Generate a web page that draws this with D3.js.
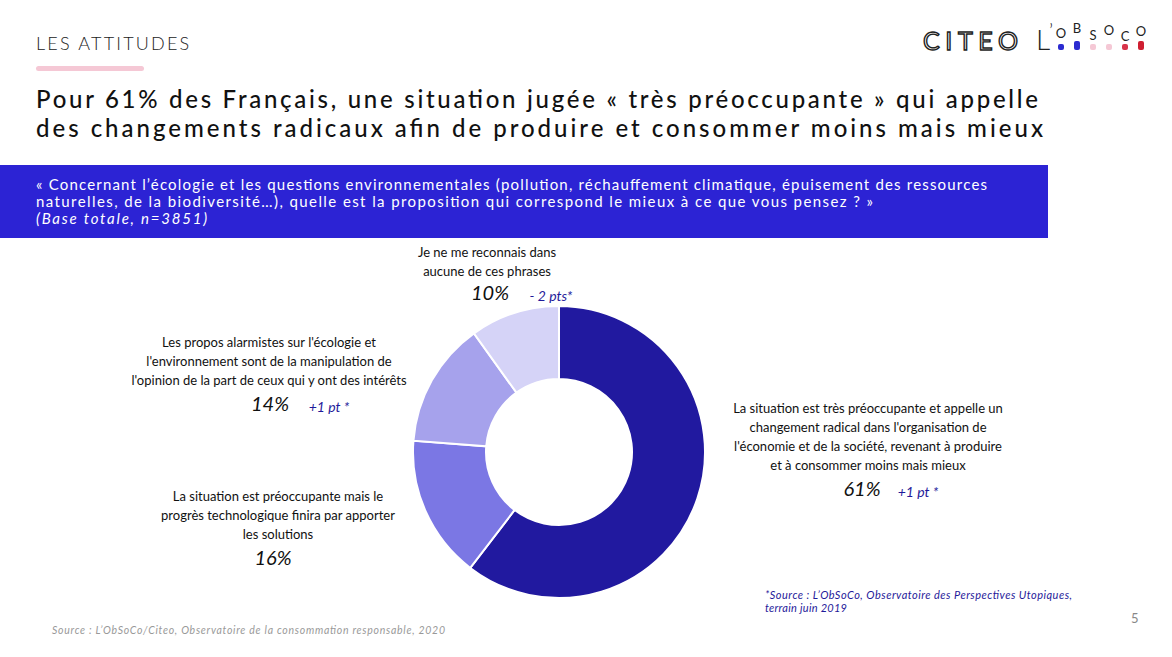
<!DOCTYPE html>
<html>
<head>
<meta charset="utf-8">
<script src="https://cdn.jsdelivr.net/npm/d3@7"></script>
<style>
  body { margin: 0; background: #fff; }
  svg { display: block; font-family: "Lato", "Open Sans", sans-serif; }
</style>
</head>
<body>
<div id="chart"></div>
<script>
// data
const categories = [
  "La situation est très préoccupante et appelle un changement radical dans l'organisation de l'économie et de la société, revenant à produire et à consommer moins mais mieux",
  "La situation est préoccupante mais le progrès technologique finira par apporter les solutions",
  "Les propos alarmistes sur l'écologie et l'environnement sont de la manipulation de l'opinion de la part de ceux qui y ont des intérêts",
  "Je ne me reconnais dans aucune de ces phrases"
];
const values = [61, 16, 14, 10];
const evolutions = ["+1 pt *", "", "+1 pt *", "- 2 pts*"];

const colors = ["#21199f", "#7b77e4", "#a6a2ec", "#d5d3f7"];

// how each label is wrapped and placed (x center, first baseline)
const labelLayout = [
  { lines: ["La situation est très préoccupante et appelle un", "changement radical dans l'organisation de", "l'économie et de la société, revenant à produire", "et à consommer moins mais mieux"], x: 868, y: 413, px: 862, py: 496, ex: 918 },
  { lines: ["La situation est préoccupante mais le", "progrès technologique finira par apporter", "les solutions"], x: 278, y: 501, px: 273, py: 565, ex: 0 },
  { lines: ["Les propos alarmistes sur l'écologie et", "l'environnement sont de la manipulation de", "l'opinion de la part de ceux qui y ont des intérêts"], x: 269, y: 347, px: 270, py: 411, ex: 329 },
  { lines: ["Je ne me reconnais dans", "aucune de ces phrases"], x: 487, y: 257, px: 490, py: 300, ex: 551 }
];

const width = 1172, height = 657;
const svg = d3.select("#chart").append("svg")
  .attr("width", width)
  .attr("height", height);

// header
svg.append("text")
  .attr("x", 36).attr("y", 50)
  .attr("font-size", 18).attr("font-weight", 300)
  .attr("letter-spacing", 2.2)
  .attr("fill", "#222")
  .text("LES ATTITUDES");

svg.append("rect")
  .attr("x", 36).attr("y", 66).attr("width", 108).attr("height", 5)
  .attr("rx", 2.5).attr("fill", "#f5c8d5");

const titleLines = [
  "Pour 61% des Français, une situation jugée « très préoccupante » qui appelle",
  "des changements radicaux afin de produire et consommer moins mais mieux"
];
svg.selectAll(".title")
  .data(titleLines)
  .enter()
  .append("text")
  .attr("class", "title")
  .attr("x", 36)
  .attr("y", (d, i) => 108 + i * 29)
  .attr("font-size", 24)
  .attr("font-weight", 500)
  .attr("fill", "#111")
  .attr("textLength", (d, i) => i === 0 ? 1002 : 1007)
  .attr("lengthAdjust", "spacing")
  .text(d => d);

// question band
svg.append("rect")
  .attr("x", 0).attr("y", 165).attr("width", 1048).attr("height", 73)
  .attr("fill", "#2c23d4");

const bandLines = [
  { t: "« Concernant l’écologie et les questions environnementales (pollution, réchauffement climatique, épuisement des ressources", w: 951, it: false },
  { t: "naturelles, de la biodiversité…), quelle est la proposition qui correspond le mieux à ce que vous pensez ? »", w: 837, it: false },
  { t: "(Base totale, n=3851)", w: 171, it: true }
];
svg.selectAll(".band")
  .data(bandLines)
  .enter()
  .append("text")
  .attr("class", "band")
  .attr("x", 36)
  .attr("y", (d, i) => 190 + i * 17)
  .attr("font-size", 15)
  .attr("font-style", d => d.it ? "italic" : "normal")
  .attr("fill", "#fff")
  .attr("textLength", d => d.w)
  .attr("lengthAdjust", "spacing")
  .text(d => d.t);

// logos
svg.append("text")
  .attr("x", 923).attr("y", 50)
  .attr("font-size", 25).attr("font-weight", 400)
  .attr("textLength", 95)
  .attr("lengthAdjust", "spacing")
  .attr("fill", "#fff").attr("stroke", "#222").attr("stroke-width", 1.4)
  .text("CITEO");

svg.append("text")
  .attr("x", 1036).attr("y", 50)
  .attr("font-size", 28).attr("font-weight", 300)
  .attr("fill", "#222")
  .text("L");
svg.append("text")
  .attr("x", 1049).attr("y", 38)
  .attr("font-size", 20).attr("font-weight", 300)
  .attr("fill", "#222")
  .text("’");

const logoLetters = ["O", "B", "S", "O", "C", "O"];
const logoDots = ["#2b2bd0", "#2b2bd0", "#f5c8d5", "#f5c8d5", "#d8344a", "#cf1f31"];
const logoX = d3.scalePoint().domain(d3.range(6)).range([1061, 1141]);
const logoY = [38, 33, 40, 35, 41, 36];
svg.selectAll(".logoL")
  .data(logoLetters)
  .enter()
  .append("text")
  .attr("x", (d, i) => logoX(i))
  .attr("y", (d, i) => logoY[i])
  .attr("text-anchor", "middle")
  .attr("font-size", 13)
  .attr("fill", "#222")
  .text(d => d);
svg.selectAll(".logoD")
  .data(logoDots)
  .enter()
  .append("rect")
  .attr("x", (d, i) => logoX(i) - 3)
  .attr("y", (d, i) => i === 1 || i === 5 ? 41 : 44)
  .attr("width", 6)
  .attr("height", (d, i) => i === 1 || i === 5 ? 9 : 6)
  .attr("rx", 2)
  .attr("fill", d => d);

// donut
const cx = 559, cy = 452, outerR = 146, innerR = 73;
const pie = d3.pie().sort(null).value(d => d);
const arc = d3.arc().innerRadius(innerR).outerRadius(outerR);

const g = svg.append("g").attr("transform", `translate(${cx},${cy})`);
g.selectAll(".slice")
  .data(pie(values))
  .enter()
  .append("path")
  .attr("class", "slice")
  .attr("d", arc)
  .attr("fill", (d, i) => colors[i])
  .attr("stroke", "#fff")
  .attr("stroke-width", 2);

// labels
const labels = svg.selectAll(".lab")
  .data(categories)
  .enter()
  .append("g")
  .attr("class", "lab");

labels.each(function (d, i) {
  const L = labelLayout[i];
  const grp = d3.select(this);
  grp.selectAll("text.line")
    .data(L.lines)
    .enter()
    .append("text")
    .attr("class", "line")
    .attr("x", L.x)
    .attr("y", (t, j) => L.y + j * 19)
    .attr("text-anchor", "middle")
    .attr("font-size", 13)
    .attr("fill", "#111")
    .text(t => t);
  grp.append("text")
    .attr("x", L.px)
    .attr("y", L.py)
    .attr("text-anchor", "middle")
    .attr("font-size", 20)
    .attr("font-style", "italic")
    .attr("fill", "#111")
    .text(values[i] + "%");
  if (evolutions[i]) {
    grp.append("text")
      .attr("x", L.ex)
      .attr("y", L.py + 1)
      .attr("text-anchor", "middle")
      .attr("font-size", 14)
      .attr("font-style", "italic")
      .attr("fill", "#1f1a9a")
      .text(evolutions[i]);
  }
});

// notes
svg.selectAll(".note")
  .data([
    { t: "*Source : L’ObSoCo, Observatoire des Perspectives Utopiques,", w: 307 },
    { t: "terrain juin 2019", w: 82 }
  ])
  .enter()
  .append("text")
  .attr("x", 765)
  .attr("y", (d, i) => 599 + i * 13)
  .attr("font-size", 11)
  .attr("font-style", "italic")
  .attr("fill", "#1f1a9a")
  .attr("textLength", d => d.w)
  .attr("lengthAdjust", "spacing")
  .text(d => d.t);

svg.append("text")
  .attr("x", 52).attr("y", 634)
  .attr("font-size", 10.5)
  .attr("font-style", "italic")
  .attr("fill", "#999")
  .attr("textLength", 393)
  .attr("lengthAdjust", "spacing")
  .text("Source : L’ObSoCo/Citeo, Observatoire de la consommation responsable, 2020");

svg.append("text")
  .attr("x", 1131).attr("y", 623)
  .attr("font-size", 13)
  .attr("fill", "#888")
  .text("5");
</script>
</body>
</html>
